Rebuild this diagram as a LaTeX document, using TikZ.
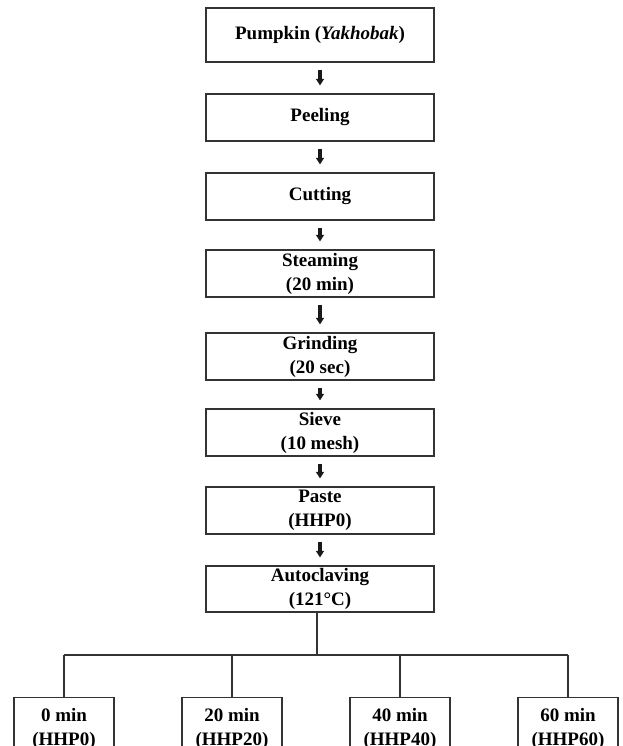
\documentclass[tikz,border=0pt]{standalone}
\usepackage{fontspec}
\setmainfont{Liberation Serif}
\usetikzlibrary{arrows.meta}
\tikzset{
  stepbox/.style={draw=black!80, line width=1.3pt, fill=white, inner sep=0pt,
    minimum width=228pt, minimum height=47pt, align=center,
    font=\fontsize{19}{24}\selectfont\bfseries},
  endbox/.style={stepbox, minimum width=100pt, minimum height=62pt},
  flowarrow/.style={line width=3.3pt, black!90, -{Triangle[width=8pt,length=6.5pt]},
    shorten <=7pt, shorten >=8pt},
  branch/.style={draw=black!80, line width=1.1pt}
}
\begin{document}
\begin{tikzpicture}[x=1pt,y=-1pt]
\useasboundingbox (0,0) rectangle (623,746);
\node[stepbox, minimum height=54pt] (b1) at (320,35) {Pumpkin (\textit{Yakhobak})};
\node[stepbox] (b2) at (320,117.5) {Peeling};
\node[stepbox] (b3) at (320,196.5) {Cutting};
\node[stepbox] (b4) at (320,273.5) {Steaming\\(20 min)};
\node[stepbox] (b5) at (320,356.5) {Grinding\\(20 sec)};
\node[stepbox] (b6) at (320,432.5) {Sieve\\(10 mesh)};
\node[stepbox] (b7) at (320,510.5) {Paste\\(HHP0)};
\node[stepbox, minimum height=46pt] (b8) at (320,589) {Autoclaving\\(121°C)};
\foreach \a/\b in {b1/b2,b2/b3,b3/b4,b4/b5,b5/b6,b6/b7,b7/b8}
  \draw[flowarrow] (\a) -- (\b);
\node[endbox, anchor=north] (e1) at (64,697) {0 min\\(HHP0)};
\node[endbox, anchor=north] (e2) at (232,697) {20 min\\(HHP20)};
\node[endbox, anchor=north] (e3) at (400,697) {40 min\\(HHP40)};
\node[endbox, anchor=north] (e4) at (568,697) {60 min\\(HHP60)};
\coordinate (j) at (317,655);
\coordinate (jl) at (64,655);
\coordinate (jr) at (568,655);
\draw[branch] (j |- b8.south) -- (j);
\draw[branch] (jl) -- (jr);
\foreach \e in {e1,e2,e3,e4}
  \draw[branch] (\e.north) -- (\e.north |- j);
\end{tikzpicture}
\end{document}
